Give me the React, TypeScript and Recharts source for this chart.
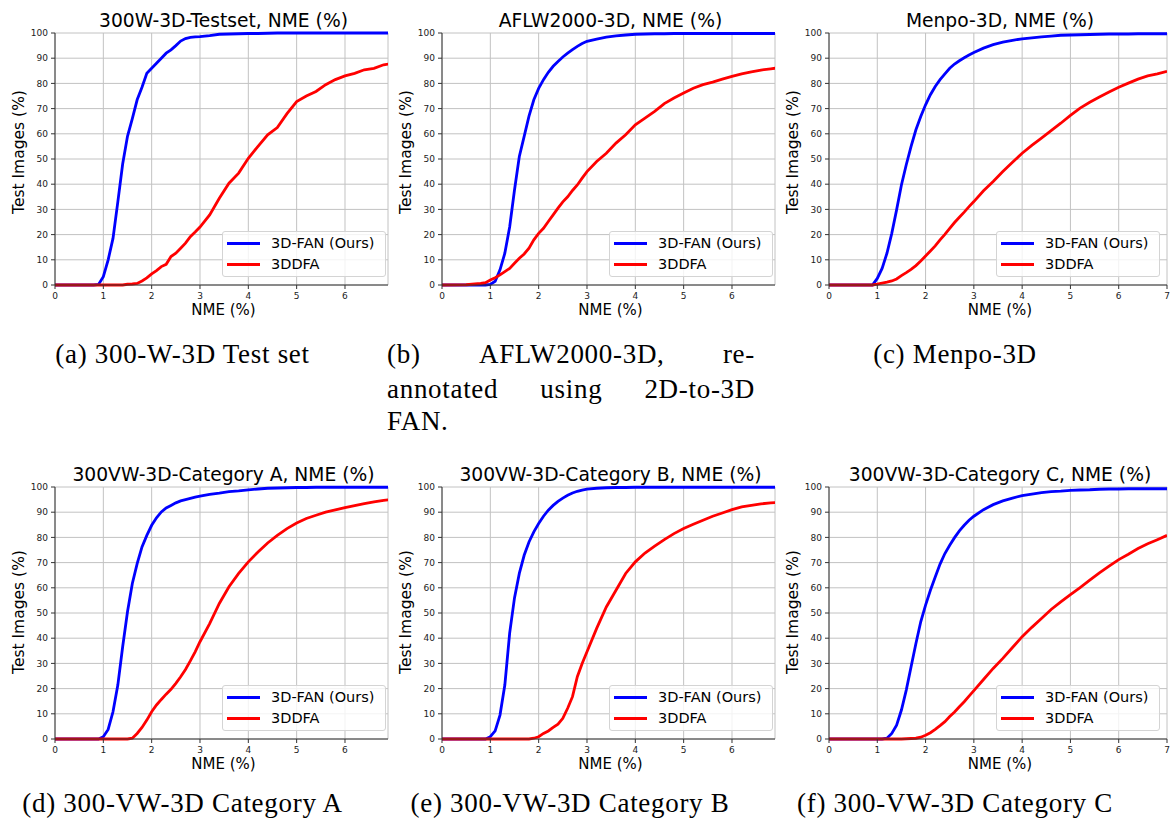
import React from 'react';
import { LineChart, Line, XAxis, YAxis, CartesianGrid, Legend } from 'recharts';

// NME (%) sample points shared by every panel
const NME = [
  0, 0.5, 0.8, 0.9,
  1.0, 1.1, 1.2, 1.3, 1.4, 1.5, 1.6, 1.7, 1.8, 1.9, 2.0, 2.1, 2.2, 2.3, 2.4, 2.5, 2.6, 2.7, 2.8, 2.9, 3.0,
  3.2, 3.4, 3.6, 3.8, 4.0, 4.2, 4.4, 4.6, 4.8, 5.0, 5.2, 5.4, 5.6, 5.8, 6.0, 6.2, 6.4, 6.6, 6.8, 7.0,
];

// (a) 300W-3D-Testset
const FAN_300W = [
  0, 0, 0, 0.2,
  3.3, 10, 18.5, 33, 48, 59, 66, 73.5, 78.5, 84, 86, 88, 90, 92, 93.3, 95, 96.8, 97.8, 98.3, 98.5, 98.6,
  99, 99.5, 99.6, 99.7, 99.8, 99.8, 99.9, 100, 100, 100, 100, 100, 100, 100, 100, 100, 100, 100, 100, 100,
];
const DDFA_300W = [
  0, 0, 0, 0,
  0, 0, 0, 0, 0, 0.3, 0.4, 0.6, 1.6, 2.8, 4.4, 5.7, 7.3, 8.2, 11.3, 12.6, 14.6, 16.6, 19.2, 21, 23,
  27.8, 34.4, 40.4, 44.4, 50.3, 55, 59.6, 62.5, 68, 72.8, 75, 76.8, 79.5, 81.5, 83, 84, 85.4, 86, 87.4, 88,
];

// (b) AFLW2000-3D
const FAN_AFLW = [
  0, 0, 0, 0,
  0.2, 1.5, 6, 12.6, 23, 37.7, 51, 59, 67, 73.5, 78, 81.5, 84.4, 86.8, 88.7, 90.5, 92, 93.4, 94.7, 95.8, 96.7,
  97.6, 98.4, 98.9, 99.2, 99.5, 99.6, 99.7, 99.7, 99.8, 99.8, 99.8, 99.8, 99.8, 99.8, 99.8, 99.8, 99.8, 99.8, 99.8, 99.8,
];
const DDFA_AFLW = [
  0, 0.1, 0.6, 0.9,
  2.0, 2.9, 4, 5.3, 6.6, 8.6, 10.6, 12.3, 14.6, 17.9, 20.5, 22.5, 25.2, 27.8, 30.5, 33, 35, 37.5, 39.7, 42.4, 45,
  49, 52.3, 56.3, 59.6, 63.6, 66.2, 68.9, 72, 74.2, 76.2, 78.1, 79.5, 80.5, 81.7, 82.8, 83.8, 84.6, 85.3, 85.8, 86.3,
];

// (c) Menpo-3D
const FAN_MENPO = [
  0, 0, 0, 0,
  2.6, 6.6, 12.6, 20.5, 29.8, 39.7, 47.7, 55, 61.6, 66.9, 71.5, 75.5, 78.8, 81.5, 83.8, 86, 87.7, 89, 90.2, 91.3, 92.3,
  94, 95.4, 96.4, 97.1, 97.7, 98.1, 98.5, 98.8, 99.1, 99.2, 99.3, 99.4, 99.5, 99.6, 99.6, 99.6, 99.7, 99.7, 99.7, 99.7,
];
const DDFA_MENPO = [
  0, 0, 0, 0,
  0.3, 0.7, 1.1, 1.6, 2.4, 3.7, 4.9, 6.2, 7.7, 9.5, 11.5, 13.5, 15.5, 17.9, 20.1, 22.5, 24.8, 26.9, 28.9, 31.1, 33.1,
  37.4, 41.1, 45, 48.7, 52.3, 55.4, 58.3, 61.3, 64.2, 67.3, 70.2, 72.5, 74.6, 76.6, 78.5, 80.1, 81.7, 83, 83.8, 84.8,
];

// (d) 300VW-3D Category A
const FAN_CAT_A = [
  0, 0, 0, 0,
  0.9, 3.8, 10.8, 21.4, 36.6, 50.5, 61.7, 69.6, 76.2, 80.8, 84.8, 87.8, 90.1, 91.7, 92.7, 93.7, 94.5, 95, 95.5, 96, 96.4,
  97.1, 97.6, 98.2, 98.5, 98.9, 99.2, 99.5, 99.6, 99.7, 99.8, 99.8, 99.9, 99.9, 99.9, 99.9, 99.9, 99.9, 99.9, 99.9, 99.9,
];
const DDFA_CAT_A = [
  0, 0, 0, 0,
  0, 0, 0, 0, 0, 0, 0.3, 2.2, 4.6, 7.5, 10.8, 13.5, 15.7, 17.8, 19.7, 22.1, 24.7, 27.6, 31, 34.6, 38.6,
  45.8, 53.8, 60.4, 65.7, 70.3, 74.2, 77.8, 80.8, 83.5, 85.7, 87.5, 88.8, 90, 90.9, 91.8, 92.6, 93.4, 94.1, 94.7, 95.2,
];

// (e) 300VW-3D Category B
const FAN_CAT_B = [
  0, 0, 0, 0,
  0.9, 3.2, 9.5, 21.4, 42, 56, 65.7, 72.9, 78.2, 82.2, 85.5, 88.4, 90.8, 92.7, 94.3, 95.6, 96.7, 97.6, 98.3, 98.8, 99.2,
  99.5, 99.7, 99.8, 99.8, 99.9, 99.9, 99.9, 99.9, 99.9, 99.9, 99.9, 99.9, 99.9, 99.9, 99.9, 99.9, 99.9, 99.9, 99.9, 99.9,
];
const DDFA_CAT_B = [
  0, 0, 0, 0,
  0, 0, 0, 0, 0, 0, 0, 0, 0, 0.3, 0.9, 2.2, 3.2, 4.6, 5.9, 8.2, 12.2, 16.8, 24.7, 30, 34.6,
  43.9, 52.4, 59, 65.7, 70.3, 73.8, 76.5, 79.1, 81.5, 83.5, 85.2, 86.8, 88.4, 89.7, 91, 92.1, 92.7, 93.3, 93.7, 94,
];

// (f) 300VW-3D Category C
const FAN_CAT_C = [
  0, 0, 0, 0,
  0, 0, 0.3, 2.2, 5.5, 11.5, 19.4, 28.7, 37.9, 46.5, 53.1, 59, 64.3, 69.4, 73.6, 76.9, 79.9, 82.6, 84.8, 86.8, 88.4,
  91, 93, 94.5, 95.6, 96.6, 97.2, 97.8, 98.2, 98.4, 98.7, 98.8, 98.9, 99.1, 99.2, 99.2, 99.3, 99.3, 99.3, 99.3, 99.3,
];
const DDFA_CAT_C = [
  0, 0, 0, 0,
  0, 0, 0, 0, 0, 0, 0.1, 0.2, 0.3, 0.7, 1.5, 2.5, 3.8, 5.3, 6.9, 8.9, 10.7, 12.8, 14.8, 17, 19.2,
  23.6, 28, 32, 36.3, 40.6, 44.3, 47.8, 51.4, 54.4, 57.3, 60.1, 63, 65.9, 68.6, 71.2, 73.3, 75.6, 77.5, 79.1, 80.8,
];

const X_TICKS_6 = [0, 1, 2, 3, 4, 5, 6];
const X_TICKS_7 = [0, 1, 2, 3, 4, 5, 6, 7];
const Y_TICKS = [0, 10, 20, 30, 40, 50, 60, 70, 80, 90, 100];

const TITLES = [
  '300W-3D-Testset, NME (%)',
  'AFLW2000-3D, NME (%)',
  'Menpo-3D, NME (%)',
  '300VW-3D-Category A, NME (%)',
  '300VW-3D-Category B, NME (%)',
  '300VW-3D-Category C, NME (%)',
];
const FAN_SERIES = [FAN_300W, FAN_AFLW, FAN_MENPO, FAN_CAT_A, FAN_CAT_B, FAN_CAT_C];
const DDFA_SERIES = [DDFA_300W, DDFA_AFLW, DDFA_MENPO, DDFA_CAT_A, DDFA_CAT_B, DDFA_CAT_C];

// plot-area placement of each panel on the page
const LAYOUT = [
  { left: 55, top: 33, w: 333, xMax: 6.89, ticks: X_TICKS_6, yLabelY: 152 },
  { left: 442, top: 33, w: 333, xMax: 6.89, ticks: X_TICKS_6, yLabelY: 152 },
  { left: 829, top: 33, w: 338, xMax: 7, ticks: X_TICKS_7, yLabelY: 152 },
  { left: 55, top: 487, w: 333, xMax: 6.89, ticks: X_TICKS_6, yLabelY: 612 },
  { left: 442, top: 487, w: 333, xMax: 6.89, ticks: X_TICKS_6, yLabelY: 612 },
  { left: 829, top: 487, w: 338, xMax: 7, ticks: X_TICKS_7, yLabelY: 612 },
];
const PLOT_H = 252;

const SANS = '"DejaVu Sans", sans-serif';
const SERIF = '"Liberation Serif", "Times New Roman", serif';
const BLUE = '#0000ff';
const RED = '#ff0000';
const SPINE = '#333333';
const GRID = '#c2c2c2';

const tickStyle = { fill: '#222', fontSize: 9, fontFamily: SANS };

// text placed by its baseline (DejaVu / Liberation ascent ratios)
const Txt = ({ x, base, size, family, children, anchor = 'center' }: any) => {
  const ratio = family === SERIF ? 0.8375 : 0.846;
  return (
    <div
      style={{
        position: 'absolute',
        left: x,
        top: base - ratio * size,
        transform: anchor === 'center' ? 'translateX(-50%)' : undefined,
        fontFamily: family,
        fontSize: size,
        lineHeight: `${size}px`,
        whiteSpace: 'nowrap',
        color: '#000',
        letterSpacing: family === SERIF ? 0.7 : 0,
      }}
    >
      {children}
    </div>
  );
};

const LegendBox = ({ payload }: any) => (
  <div
    style={{
      width: 164,
      height: 46,
      boxSizing: 'border-box',
      border: '1px solid #d4d4d4',
      borderRadius: 3,
      background: 'rgba(255,255,255,0.8)',
      position: 'relative',
      fontFamily: SANS,
      fontSize: 14.5,
      color: '#000',
    }}
  >
    {(payload || []).map((p: any, i: number) => (
      <div
        key={p.value}
        style={{ position: 'absolute', left: 4, top: 4 + i * 20.5, height: 15, display: 'flex', alignItems: 'center' }}
      >
        <span style={{ display: 'inline-block', width: 33, height: 3, background: p.color }} />
        <span style={{ marginLeft: 11, lineHeight: '15px', whiteSpace: 'nowrap' }}>{p.value}</span>
      </div>
    ))}
  </div>
);

function Panel({ idx }: { idx: number }) {
  const lay = LAYOUT[idx];
  const fan = FAN_SERIES[idx];
  const ddfa = DDFA_SERIES[idx];
  const data = NME.map((x, i) => ({ nme: x, fan: fan[i], ddfa: ddfa[i] }));
  const cx = lay.left + lay.w / 2 + 2;

  return (
    <>
      <Txt x={cx} base={lay.top - 5.5} size={18.7} family={SANS}>{TITLES[idx]}</Txt>
      <div style={{ position: 'absolute', left: lay.left - 40, top: lay.top - 10 }}>
        <LineChart
          width={lay.w + 50}
          height={PLOT_H + 40}
          data={data}
          margin={{ top: 10, right: 10, bottom: 0, left: 0 }}
        >
          <CartesianGrid stroke={GRID} strokeWidth={1} />
          <XAxis
            dataKey="nme"
            type="number"
            domain={[0, lay.xMax]}
            ticks={lay.ticks}
            interval={0}
            allowDataOverflow
            height={30}
            tickSize={4}
            tickMargin={4}
            tick={tickStyle}
            axisLine={{ stroke: SPINE }}
            tickLine={{ stroke: SPINE }}
          />
          <XAxis
            xAxisId="top"
            orientation="top"
            dataKey="nme"
            type="number"
            domain={[0, lay.xMax]}
            allowDataOverflow
            height={0}
            tick={false}
            tickLine={false}
            axisLine={{ stroke: SPINE }}
          />
          <YAxis
            type="number"
            domain={[0, 100]}
            ticks={Y_TICKS}
            interval={0}
            width={40}
            tickSize={4}
            tickMargin={3}
            tick={tickStyle}
            axisLine={{ stroke: SPINE }}
            tickLine={{ stroke: SPINE }}
          />
          <YAxis
            yAxisId="right"
            orientation="right"
            type="number"
            domain={[0, 100]}
            width={0}
            tick={false}
            tickLine={false}
            axisLine={{ stroke: SPINE }}
          />
          <Legend
            layout="vertical"
            align="center"
            verticalAlign="middle"
            content={<LegendBox />}
            wrapperStyle={{ left: 207, top: 208, width: 164, height: 46 }}
          />
          <Line
            type="linear"
            dataKey="fan"
            name="3D-FAN (Ours)"
            stroke={BLUE}
            strokeWidth={2.8}
            dot={false}
            activeDot={false}
            isAnimationActive={false}
          />
          <Line
            type="linear"
            dataKey="ddfa"
            name="3DDFA"
            stroke={RED}
            strokeWidth={2.8}
            dot={false}
            activeDot={false}
            isAnimationActive={false}
          />
        </LineChart>
      </div>
      <Txt x={cx} base={lay.top + PLOT_H + 31} size={15} family={SANS}>NME (%)</Txt>
      <div
        style={{
          position: 'absolute',
          left: lay.left - 36.5,
          top: lay.yLabelY,
          transform: 'translate(-50%, -50%) rotate(-90deg)',
          fontFamily: SANS,
          fontSize: 15.5,
          lineHeight: '16px',
          whiteSpace: 'nowrap',
          color: '#000',
        }}
      >
        Test Images (%)
      </div>
    </>
  );
}

const captionLine = (top: number, words: string[]) => (
  <div
    style={{
      position: 'absolute',
      left: 387,
      top: top - 0.8375 * 27,
      width: 368,
      display: 'flex',
      justifyContent: 'space-between',
      fontFamily: SERIF,
      fontSize: 27,
      lineHeight: '27px',
      letterSpacing: 0.7,
      whiteSpace: 'nowrap',
      color: '#000',
    }}
  >
    {words.map((w) => (
      <span key={w}>{w}</span>
    ))}
  </div>
);

export default function App() {
  return (
    <div
      style={{
        position: 'absolute',
        left: 0,
        top: 0,
        width: 1171,
        height: 823,
        background: '#fff',
        overflow: 'hidden',
      }}
    >
      {LAYOUT.map((_, i) => (
        <Panel key={i} idx={i} />
      ))}

      <Txt x={182.5} base={364} size={27} family={SERIF}>(a) 300-W-3D Test set</Txt>
      {captionLine(364, ['(b)', 'AFLW2000-3D,', 're-'])}
      {captionLine(398.5, ['annotated', 'using', '2D-to-3D'])}
      <Txt x={387} base={431} size={27} family={SERIF} anchor="left">FAN.</Txt>
      <Txt x={955} base={364} size={27} family={SERIF}>(c) Menpo-3D</Txt>

      <Txt x={182.5} base={813} size={27} family={SERIF}>(d) 300-VW-3D Category A</Txt>
      <Txt x={570} base={813} size={27} family={SERIF}>(e) 300-VW-3D Category B</Txt>
      <Txt x={955} base={813} size={27} family={SERIF}>(f) 300-VW-3D Category C</Txt>
    </div>
  );
}
